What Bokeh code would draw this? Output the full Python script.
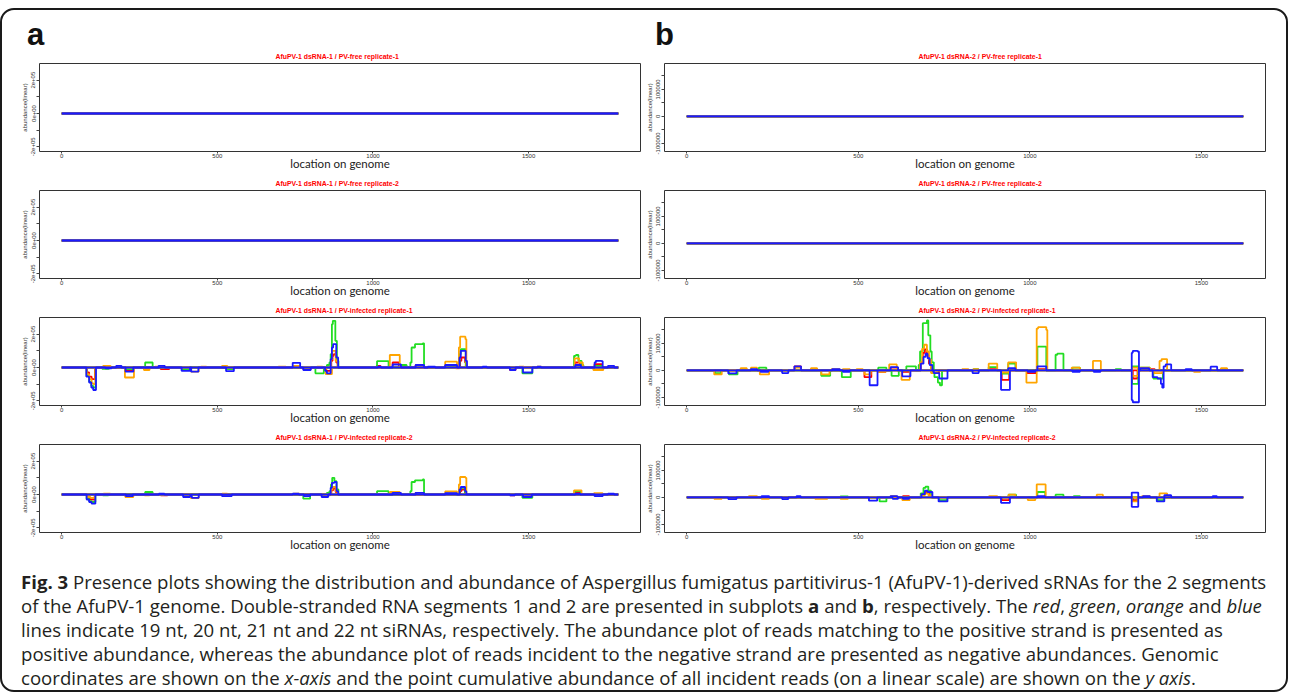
import math
from bokeh.plotting import figure
from bokeh.models import Range1d, FixedTicker, Div, Spacer
from bokeh.layouts import column, row
from bokeh.embed import file_html
from bokeh.resources import INLINE

# ---------------- data ----------------
A_LEN = 1788          # dsRNA-1 length (nt)
B_LEN = 1622          # dsRNA-2 length (nt)
X_TICKS = [0, 500, 1000, 1500]
A_Y_TICKS = [-200000, -100000, 0, 100000, 200000]
A_Y_LABELS = {-200000: "-2e+05", -100000: "", 0: "0e+00", 100000: "", 200000: "2e+05"}
B_Y_TICKS = [-100000, -50000, 0, 50000, 100000, 150000]
B_Y_LABELS = {-100000: "-100000", -50000: "", 0: "0", 50000: "", 100000: "100000", 150000: ""}

TITLES_A = ["AfuPV-1 dsRNA-1 / PV-free replicate-1", "AfuPV-1 dsRNA-1 / PV-free replicate-2",
            "AfuPV-1 dsRNA-1 / PV-infected replicate-1", "AfuPV-1 dsRNA-1 / PV-infected replicate-2"]
TITLES_B = ["AfuPV-1 dsRNA-2 / PV-free replicate-1", "AfuPV-1 dsRNA-2 / PV-free replicate-2",
            "AfuPV-1 dsRNA-2 / PV-infected replicate-1", "AfuPV-1 dsRNA-2 / PV-infected replicate-2"]

SIZES = ["19 nt", "20 nt", "21 nt", "22 nt"]
COLORS = ["#FF0000", "#22DD22", "#FFA500", "#1A1AFF"]

# step profiles: (position, abundance in thousands) - value holds until next breakpoint
FLAT = []

A3_RED_POS = [(135,5),(155,0),(866,40),(870,70),(874,80),(882,30),(887,0),(1012,10),(1024,0),(1063,30),(1083,0),(1137,15),(1164,0),(1232,10),(1270,0),(1280,40),(1284,60),(1296,30),(1300,0),(1650,30),(1665,10),(1672,0),(1712,20),(1735,0)]
A3_RED_NEG = [(81,-30),(88,-55),(96,-70),(107,0),(206,-15),(228,0),(318,-10),(345,0),(386,-15),(410,0),(776,-10),(800,0),(850,-20),(866,0),(1440,-15),(1458,0)]
A3_GREEN_POS = [(268,30),(292,0),(852,15),(860,30),(864,80),(868,260),(871,280),(879,160),(884,40),(889,0),(1013,38),(1050,0),(1088,15),(1108,0),(1120,30),(1124,120),(1135,140),(1160,145),(1164,0),(1232,10),(1268,0),(1278,80),(1282,110),(1298,0),(1646,70),(1652,75),(1660,40),(1670,15),(1676,0),(1712,10),(1735,0)]
A3_GREEN_NEG = [(80,-50),(88,-85),(95,-110),(101,-120),(109,0),(130,-8),(152,0),(206,-10),(228,0),(388,-10),(410,0),(530,-10),(550,0),(815,-35),(842,0),(1442,-5),(1456,0),(1480,-35),(1512,0)]
A3_ORANGE_POS = [(133,10),(157,0),(300,5),(320,0),(447,5),(465,0),(515,10),(532,0),(696,5),(720,0),(744,10),(765,0),(820,5),(838,0),(865,50),(869,100),(880,40),(886,0),(1054,75),(1086,0),(1232,35),(1270,0),(1276,120),(1280,185),(1297,170),(1300,0),(1470,5),(1485,0),(1527,5),(1541,0),(1648,55),(1662,30),(1674,0)]
A3_ORANGE_NEG = [(80,-40),(88,-70),(96,-95),(102,-100),(108,0),(203,-60),(232,0),(264,-15),(282,0),(415,-25),(440,0),(848,-40),(868,0),(1266,-5),(1278,0),(1708,-15),(1740,0)]
A3_BLUE_POS = [(175,10),(192,0),(311,10),(331,0),(742,28),(766,0),(864,50),(868,120),(872,140),(882,60),(888,0),(1016,5),(1026,0),(1063,18),(1090,0),(1137,15),(1164,0),(1176,5),(1200,0),(1232,15),(1270,0),(1278,60),(1282,100),(1290,100),(1298,40),(1302,0),(1352,5),(1366,0),(1528,5),(1540,0),(1650,15),(1668,0),(1712,30),(1716,40),(1734,38),(1738,0),(1755,10),(1775,0)]
A3_BLUE_NEG = [(79,-55),(88,-90),(95,-120),(101,-135),(110,0),(140,-5),(160,0),(205,-25),(230,0),(385,-20),(412,0),(416,-25),(439,0),(528,-22),(553,0),(776,-15),(800,0),(846,-20),(852,-35),(864,0),(1440,-15),(1458,0),(1482,-30),(1512,0)]

A4_RED_POS = [(866,25),(872,35),(880,15),(886,0),(1063,5),(1083,0),(1137,10),(1164,0),(1232,5),(1268,0),(1280,20),(1284,30),(1296,0),(1650,10),(1668,0)]
A4_RED_NEG = [(82,-20),(90,-30),(106,0),(318,-5),(340,0),(1440,-5),(1456,0)]
A4_GREEN_POS = [(268,15),(292,0),(852,10),(860,20),(865,60),(869,100),(876,80),(883,30),(889,0),(1013,20),(1050,0),(1120,20),(1124,75),(1135,85),(1160,90),(1164,0),(1234,5),(1266,0),(1278,30),(1282,40),(1296,0),(1648,20),(1668,0)]
A4_GREEN_NEG = [(80,-25),(88,-40),(96,-45),(108,0),(132,-5),(150,0),(776,-25),(798,0),(1480,-20),(1512,0)]
A4_ORANGE_POS = [(134,5),(156,0),(515,5),(532,0),(744,5),(764,0),(866,30),(870,45),(880,20),(886,0),(1054,15),(1086,0),(1232,18),(1270,0),(1276,60),(1280,105),(1297,100),(1300,0),(1646,25),(1670,0),(1710,8),(1738,0)]
A4_ORANGE_NEG = [(82,-15),(92,-20),(106,0),(204,-15),(230,0),(266,-5),(282,0),(415,-22),(440,0),(848,-5),(862,0)]
A4_BLUE_POS = [(312,5),(330,0),(742,5),(762,0),(864,40),(868,70),(876,75),(883,20),(888,0),(1063,10),(1090,0),(1137,10),(1164,0),(1232,8),(1270,0),(1278,30),(1282,45),(1296,20),(1300,0),(1650,5),(1666,0),(1755,5),(1775,0)]
A4_BLUE_NEG = [(80,-30),(88,-45),(96,-55),(108,0),(206,-10),(228,0),(390,-15),(412,-8),(418,-20),(440,0),(515,-10),(546,0),(778,-10),(798,0),(835,-15),(856,0),(1440,-5),(1456,0),(1482,-15),(1510,0),(1712,-10),(1738,0)]

B3_RED_POS = [(314,15),(333,0),(594,10),(614,0),(682,30),(688,65),(694,78),(700,55),(706,25),(712,0),(882,5),(904,0),(1022,5),(1048,0),(1352,5),(1364,0)]
B3_RED_NEG = [(518,-25),(538,0),(560,-5),(580,0),(630,-5),(650,0),(716,-10),(735,0),(918,-35),(940,0),(992,-10),(1018,0),(1300,-30),(1314,0)]
B3_GREEN_POS = [(210,10),(232,0),(558,10),(582,0),(640,15),(668,0),(676,20),(680,70),(688,175),(700,185),(704,130),(710,70),(714,30),(720,0),(836,5),(850,0),(880,12),(904,0),(937,25),(958,0),(1022,88),(1048,0),(1075,58),(1080,62),(1098,0),(1124,10),(1146,0),(1250,5),(1266,0),(1298,15),(1316,0),(1322,10),(1350,0)]
B3_GREEN_NEG = [(82,-10),(100,0),(123,-15),(148,0),(392,-20),(418,0),(452,-25),(478,0),(597,-20),(618,0),(714,-10),(722,-25),(732,-45),(738,-55),(744,0),(918,-12),(940,0),(1298,-50),(1316,0),(1360,-30),(1388,0)]
B3_ORANGE_POS = [(157,8),(175,0),(187,10),(205,0),(316,10),(332,0),(362,8),(380,0),(422,5),(446,0),(455,5),(475,0),(495,5),(513,0),(590,22),(612,0),(680,30),(686,80),(692,95),(700,70),(706,40),(712,0),(803,5),(821,0),(835,5),(850,0),(880,25),(905,0),(937,30),(960,0),(1020,155),(1024,160),(1048,150),(1051,0),(1122,10),(1146,0),(1184,35),(1207,0),(1298,10),(1316,0),(1322,10),(1350,0),(1378,35),(1384,42),(1400,0),(1557,8),(1575,0)]
B3_ORANGE_NEG = [(80,-15),(102,0),(213,-15),(240,0),(392,-15),(416,0),(518,-15),(536,0),(558,-5),(580,0),(626,-35),(650,0),(712,-10),(730,0),(920,-8),(940,0),(990,-45),(1020,0),(1298,-20),(1316,0),(1362,-10),(1386,0),(1478,-5),(1497,0)]
B3_BLUE_POS = [(187,5),(205,0),(314,15),(333,0),(424,5),(446,0),(594,12),(616,0),(682,25),(690,50),(696,62),(702,45),(708,20),(716,0),(937,8),(958,0),(1022,15),(1048,0),(1297,65),(1300,72),(1314,70),(1318,0),(1322,8),(1348,0),(1390,15),(1396,22),(1412,0),(1454,5),(1472,0),(1527,14),(1546,0)]
B3_BLUE_NEG = [(121,-11),(145,0),(215,-5),(238,0),(278,-10),(296,0),(455,-5),(475,0),(533,-55),(556,0),(628,-22),(652,0),(720,-10),(736,-30),(760,0),(833,-10),(851,0),(916,-72),(942,0),(994,-5),(1016,0),(1124,-5),(1146,0),(1186,-5),(1206,0),(1297,-110),(1300,-118),(1314,-118),(1318,0),(1358,-25),(1372,-30),(1382,-50),(1386,-64),(1390,0)]

B4_RED_POS = [(630,5),(648,0),(686,12),(696,20),(706,10),(714,0)]
B4_RED_NEG = [(918,-10),(940,0),(1300,-10),(1314,0)]
B4_GREEN_POS = [(448,4),(470,0),(682,15),(690,35),(696,40),(704,25),(712,0),(938,10),(960,0),(1022,20),(1045,0),(1075,10),(1098,0),(1128,5),(1146,0)]
B4_GREEN_NEG = [(562,-15),(582,0),(736,-10),(758,0),(1372,-10),(1390,0)]
B4_ORANGE_POS = [(181,5),(205,0),(594,5),(612,0),(684,8),(694,15),(704,8),(712,0),(881,5),(905,0),(938,10),(958,0),(1020,48),(1046,0),(1195,10),(1213,0),(1327,5),(1350,0),(1378,15),(1400,0)]
B4_ORANGE_NEG = [(80,-5),(102,0),(218,-5),(240,0),(374,-5),(410,0),(448,-5),(470,0),(628,-10),(650,0),(994,-10),(1016,0),(1298,-15),(1314,0)]
B4_BLUE_POS = [(218,5),(240,0),(320,5),(332,0),(594,5),(614,0),(684,12),(694,25),(702,20),(716,0),(1022,5),(1044,0),(1297,18),(1316,0),(1330,5),(1350,0),(1392,8),(1412,0),(1533,5),(1545,0)]
B4_BLUE_NEG = [(121,-6),(145,0),(278,-6),(296,0),(531,-12),(555,0),(600,-5),(616,0),(630,-5),(648,0),(734,-15),(760,0),(916,-20),(942,0),(1297,-35),(1316,0),(1370,-15),(1392,0)]

PANEL_A_SERIES = [
    [(FLAT, FLAT)] * 4,
    [(FLAT, FLAT)] * 4,
    [(A3_RED_POS, A3_RED_NEG), (A3_GREEN_POS, A3_GREEN_NEG), (A3_ORANGE_POS, A3_ORANGE_NEG), (A3_BLUE_POS, A3_BLUE_NEG)],
    [(A4_RED_POS, A4_RED_NEG), (A4_GREEN_POS, A4_GREEN_NEG), (A4_ORANGE_POS, A4_ORANGE_NEG), (A4_BLUE_POS, A4_BLUE_NEG)],
]
PANEL_B_SERIES = [
    [(FLAT, FLAT)] * 4,
    [(FLAT, FLAT)] * 4,
    [(B3_RED_POS, B3_RED_NEG), (B3_GREEN_POS, B3_GREEN_NEG), (B3_ORANGE_POS, B3_ORANGE_NEG), (B3_BLUE_POS, B3_BLUE_NEG)],
    [(B4_RED_POS, B4_RED_NEG), (B4_GREEN_POS, B4_GREEN_NEG), (B4_ORANGE_POS, B4_ORANGE_NEG), (B4_BLUE_POS, B4_BLUE_NEG)],
]

CAPTION_LINES = [
    "<b>Fig. 3</b> Presence plots showing the distribution and abundance of Aspergillus fumigatus partitivirus-1 (AfuPV-1)-derived sRNAs for the 2 segments",
    "of the AfuPV-1 genome. Double-stranded RNA segments 1 and 2 are presented in subplots <b>a</b> and <b>b</b>, respectively. The <i>red</i>, <i>green</i>, <i>orange</i> and <i>blue</i>",
    "lines indicate 19 nt, 20 nt, 21 nt and 22 nt siRNAs, respectively. The abundance plot of reads matching to the positive strand is presented as",
    "positive abundance, whereas the abundance plot of reads incident to the negative strand are presented as negative abundances. Genomic",
    "coordinates are shown on the <i>x-axis</i> and the point cumulative abundance of all incident reads (on a linear scale) are shown on the <i>y axis</i>.",
]

# ---------------- drawing ----------------
AX_FONT = "Liberation Sans"


def profile(points, length):
    xs = [0] + [p[0] for p in points] + [length]
    ys = [0] + [p[1] * 1000 for p in points] + [0]
    return xs, ys


def make_fig(panel, title, series):
    if panel == "a":
        length = A_LEN
        p = figure(frame_width=601, frame_height=88, min_border_left=37, min_border_right=2,
                   min_border_top=17, min_border_bottom=22,
                   x_range=Range1d(-71.5, 1859.5), y_range=Range1d(-228000, 300000),
                   output_backend="svg", toolbar_location=None, title=title)
        yt, yl, toff = A_Y_TICKS, A_Y_LABELS, 236
    else:
        length = B_LEN
        p = figure(frame_width=601, frame_height=88, min_border_left=22, min_border_right=14,
                   min_border_top=17, min_border_bottom=22,
                   x_range=Range1d(-64.9, 1686.9), y_range=Range1d(-130000, 196000),
                   output_backend="svg", toolbar_location=None, title=title)
        yt, yl, toff = B_Y_TICKS, B_Y_LABELS, 254
    p.title.align = "left"
    p.title.offset = toff
    p.title.text_font = AX_FONT
    p.title.text_font_size = "6.9px"
    p.title.text_font_style = "bold"
    p.title.text_color = "#FF0000"
    p.title.standoff = 7
    p.background_fill_color = "white"
    p.border_fill_color = None
    p.outline_line_color = "#333333"
    p.outline_line_width = 1
    p.grid.visible = False

    xa = p.xaxis[0]
    xa.ticker = FixedTicker(ticks=X_TICKS)
    xa.axis_line_color = None
    xa.major_tick_in = 0
    xa.major_tick_out = 2
    xa.major_tick_line_color = "#444444"
    xa.minor_tick_line_color = None
    xa.major_label_standoff = 0
    xa.major_label_text_font = AX_FONT
    xa.major_label_text_font_size = "6px"
    xa.major_label_text_color = "#333333"
    xa.axis_label = "location on genome"
    xa.axis_label_text_font = "Lato"
    xa.axis_label_text_font_size = "11.5px"
    xa.axis_label_text_font_style = "normal"
    xa.axis_label_text_color = "#222222"
    xa.axis_label_standoff = -4

    ya = p.yaxis[0]
    ya.ticker = FixedTicker(ticks=yt)
    ya.major_label_overrides = yl
    ya.axis_line_color = None
    ya.major_tick_in = 0
    ya.major_tick_out = 3
    ya.major_tick_line_color = "#444444"
    ya.minor_tick_line_color = None
    ya.major_label_orientation = "vertical"
    ya.major_label_standoff = 1
    ya.major_label_text_font = AX_FONT
    ya.major_label_text_font_size = "6px"
    ya.major_label_text_color = "#333333"
    ya.axis_label = "abundance(linear)"
    ya.axis_label_text_font = AX_FONT
    ya.axis_label_text_font_size = "6px"
    ya.axis_label_text_font_style = "normal"
    ya.axis_label_text_color = "#333333"
    ya.axis_label_standoff = 1

    for (pos, neg), color in zip(series, COLORS):
        for pts in (pos, neg):
            xs, ys = profile(pts, length)
            p.step(xs, ys, mode="after", line_color=color, line_width=1.8)
    return p


figs_a = [make_fig("a", TITLES_A[i], PANEL_A_SERIES[i]) for i in range(4)]
figs_b = [make_fig("b", TITLES_B[i], PANEL_B_SERIES[i]) for i in range(4)]

header = Div(
    text=("<div style=\"position:relative;width:1284px;height:36px;"
          "font-family:'Liberation Sans',Arial,sans-serif;font-weight:bold;font-size:31px;color:#111;\">"
          "<span style=\"position:absolute;left:25px;top:9px;line-height:31px;\">a</span>"
          "<span style=\"position:absolute;left:653px;top:9px;line-height:31px;\">b</span></div>"),
    width=1284, height=36, margin=0)

caption = Div(
    text=("<div style=\"padding:16px 0 0 19px;font-family:'Open Sans',sans-serif;font-size:18.6px;"
          "line-height:24px;color:#231f20;white-space:nowrap;\">" + "<br>".join(CAPTION_LINES) + "</div>"),
    width=1284, height=136, margin=0)

rows = [row(figs_a[i], figs_b[i], spacing=0) for i in range(4)]
boxed = column(header, *rows, caption, spacing=0, width=1288, height=684,
               styles={"border": "2px solid #1a1a1a", "border-radius": "14px", "background": "white"})
layout = column(Spacer(width=1288, height=8), boxed, spacing=0)

open("out.html", "w").write(file_html(layout, INLINE))
